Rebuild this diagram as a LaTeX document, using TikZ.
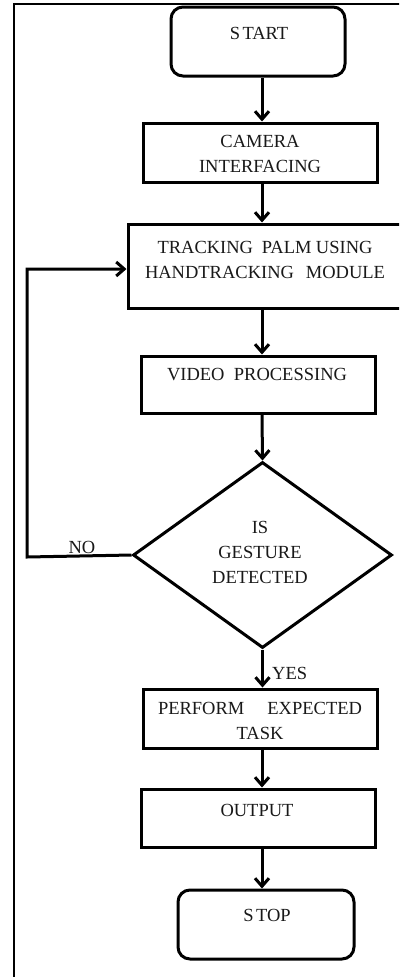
\documentclass[tikz,border=0pt]{standalone}
\usepackage{fontspec}
\setmainfont{Liberation Serif}
\usetikzlibrary{arrows.meta,shapes.geometric}
\begin{document}
\begin{tikzpicture}[x=1pt,y=-1pt,
  box/.style={draw, line width=3pt, rectangle, inner sep=0pt},
  rbox/.style={box, rounded corners=12pt},
  dia/.style={draw, line width=3pt, diamond, inner sep=0pt},
  arr/.style={line width=3pt, -{Straight Barb[length=8pt,width=14pt]}},
  lbl/.style={font=\fontsize{18.5}{25}\selectfont, align=center, text=black!90, inner sep=0pt}]
\useasboundingbox (0,0) rectangle (399,977);
\clip (0,0) rectangle (399,977);
\fill[white] (0,0) rectangle (399,977);
% outer frame
\draw[line width=2.2pt] (14,990) -- (14,4) -- (410,4);
% shapes
\node[rbox, minimum width=174pt, minimum height=69pt] (start) at (258,41.5) {};
\node[box, minimum width=234pt, minimum height=59pt] (cam) at (260,152.5) {};
\node[box, minimum width=276pt, minimum height=84pt] (track) at (266,266) {};
\node[box, minimum width=234pt, minimum height=57pt] (video) at (258,384.5) {};
\node[dia, minimum width=259pt, minimum height=186pt] (dec) at (262.5,555) {};
\node[box, minimum width=234pt, minimum height=59pt] (perform) at (260,718.5) {};
\node[box, minimum width=234pt, minimum height=58pt] (output) at (258,818) {};
\node[rbox, minimum width=176pt, minimum height=69pt] (stop) at (266,924.5) {};
% texts
\node[lbl] (tstart) at (259,33) {S\hspace{2.5pt}TART};
\node[lbl] (tcam) at (260,154) {CAMERA\\INTERFACING};
\node[lbl] (ttrack) at (265,260) {\makebox[215pt][s]{TRACKING\hfill\hfill PALM\hfill USING}\\\makebox[240pt][s]{HANDTRACKING\hfill MODULE}};
\node[lbl] (tvideo) at (257,375) {\makebox[180pt][s]{VIDEO\hfill PROCESSING}};
\node[lbl] (tdec) at (260,552) {IS\\GESTURE\\DETECTED};
\node[lbl] (tperform) at (260,720.5) {\makebox[204pt][s]{PERFORM\hfill EXPECTED}\\TASK};
\node[lbl] (toutput) at (257,810) {OUTPUT};
\node[lbl] (tstop) at (267,915) {S\hspace{2.5pt}TOP};
\node[lbl, anchor=west] (tyes) at (272,673) {YES};
\node[lbl] (tno) at (82,547) {NO};
% connectors
\coordinate (ax) at (262,0);
\coordinate (loopc) at (27,557);
\draw[arr] (start.south -| ax) -- (cam.north -| ax);
\draw[arr] (cam.south -| ax) -- (track.north -| ax);
\draw[arr] (track.south -| ax) -- (video.north -| ax);
\draw[arr] (video.south -| ax) -- (dec.north);
\draw[arr] (dec.south) -- (perform.north -| dec.south);
\draw[arr] (perform.south -| ax) -- (output.north -| ax);
\draw[arr] (output.south -| ax) -- (stop.north -| ax);
\draw[arr] (dec.west) -- (loopc) |- ([yshift=-3pt]track.west);
\end{tikzpicture}
\end{document}
